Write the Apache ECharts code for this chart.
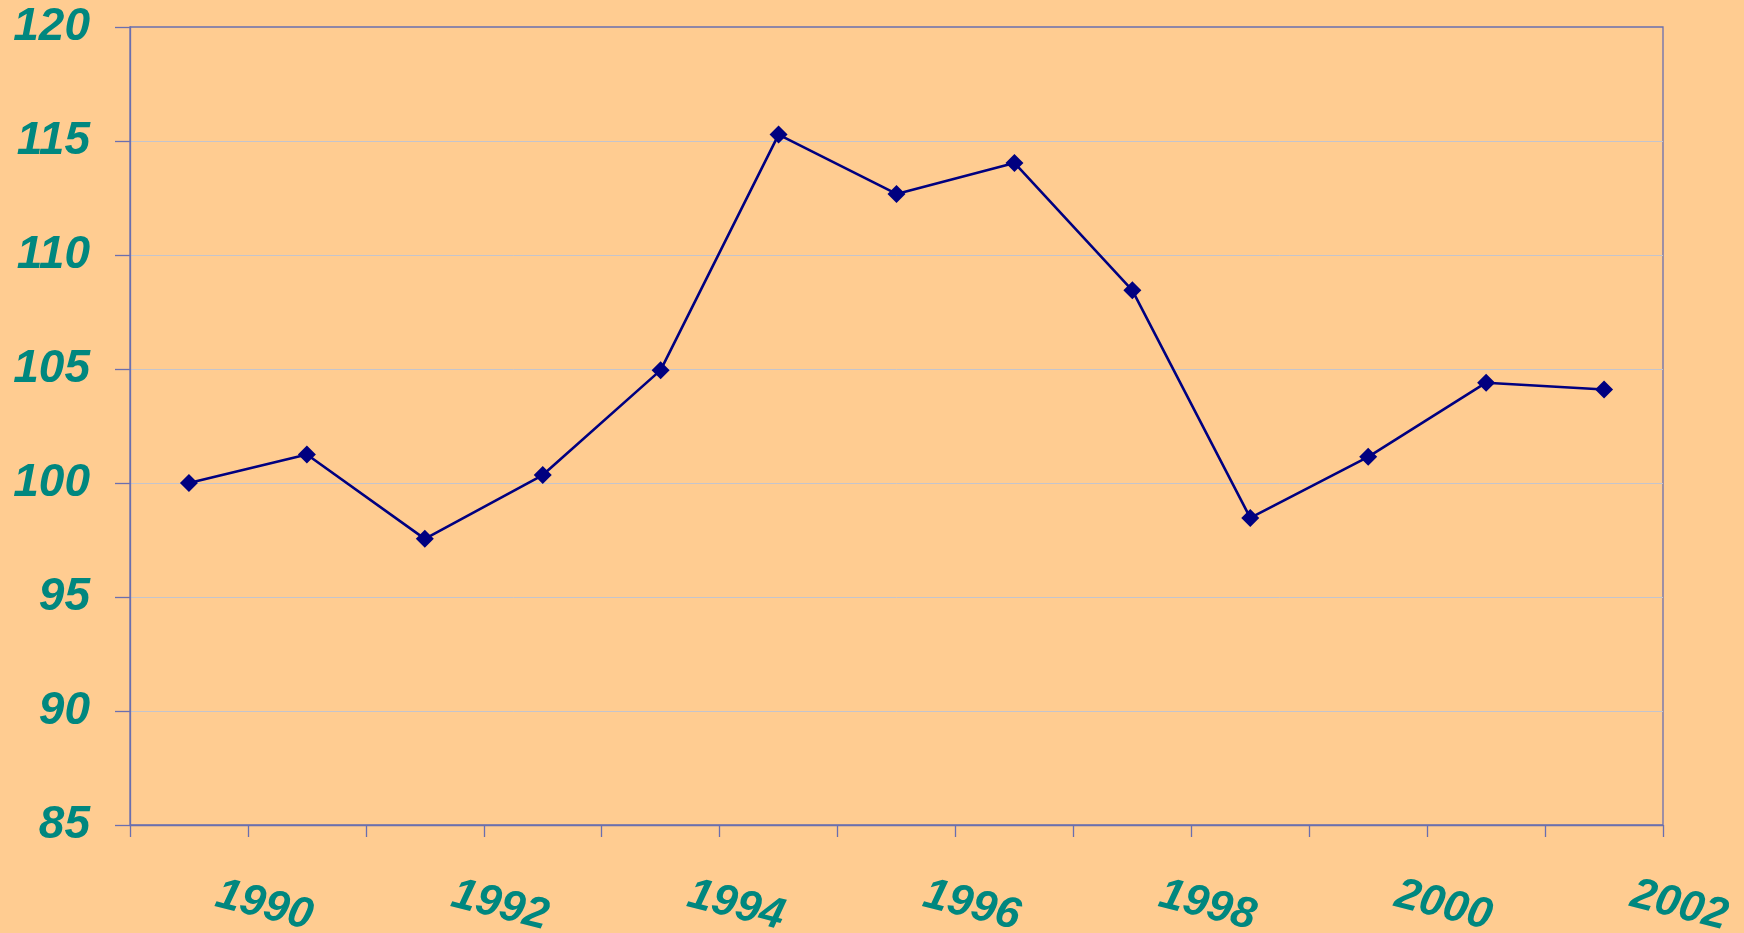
<!DOCTYPE html>
<html>
<head>
<meta charset="utf-8">
<script src="https://cdn.jsdelivr.net/npm/echarts@6/dist/echarts.min.js"></script>
<style>
html,body{margin:0;padding:0;background:#FFCC91;}
#chart{width:1744px;height:933px;}
</style>
</head>
<body>
<div id="chart"></div>
<script>
const years = ['1990','1991','1992','1993','1994','1995','1996','1997','1998','1999','2000','2001','2002'];
const values = [100.0, 101.25, 97.55, 100.35, 104.95, 115.28, 112.68, 114.04, 108.45, 98.47, 101.15, 104.4, 104.1];
const yTicks = { min: 85, max: 120, interval: 5 };

const axisColor = '#6A6FAF';
const labelColor = '#00877F';
const chart = echarts.init(document.getElementById('chart'), null, { renderer: 'canvas' });
chart.setOption({
  backgroundColor: '#FFCC91',
  animation: false,
  grid: {
    left: 130, right: 81, top: 27, bottom: 108,
    containLabel: false,
    outerBoundsMode: 'none',
    show: true, borderColor: axisColor, borderWidth: 1.3, backgroundColor: 'transparent'
  },
  xAxis: {
    type: 'category',
    data: years,
    boundaryGap: true,
    axisLine: { show: true, lineStyle: { color: axisColor, width: 1.3 } },
    axisTick: { show: true, interval: 0, length: 12, lineStyle: { color: axisColor, width: 1.3 } },
    splitLine: { show: false },
    axisLabel: {
      interval: 1,
      rotate: -14,
      align: 'center',
      verticalAlign: 'middle',
      padding: [0, 0, 0, 155],
      margin: 62,
      color: labelColor,
      fontFamily: 'Liberation Sans, Arial, sans-serif',
      fontWeight: 'bold',
      fontStyle: 'italic',
      fontSize: 44
    }
  },
  yAxis: {
    type: 'value',
    min: yTicks.min, max: yTicks.max, interval: yTicks.interval,
    axisLine: { show: true, lineStyle: { color: axisColor, width: 1.3 } },
    axisTick: { show: true, length: 15, lineStyle: { color: axisColor, width: 1.3 } },
    splitLine: { show: true, showMinLine: false, showMaxLine: false, lineStyle: { color: '#C4C4CC', width: 1 } },
    axisLabel: {
      margin: 40,
      color: labelColor,
      fontFamily: 'Liberation Sans, Arial, sans-serif',
      fontWeight: 'bold',
      fontStyle: 'italic',
      fontSize: 46
    }
  },
  series: [{
    type: 'line',
    data: values,
    symbol: 'diamond',
    symbolSize: 18,
    showAllSymbol: true,
    lineStyle: { color: '#000080', width: 2.6 },
    itemStyle: { color: '#000080', borderWidth: 0 },
    emphasis: { disabled: true }
  }]
});
</script>
</body>
</html>
